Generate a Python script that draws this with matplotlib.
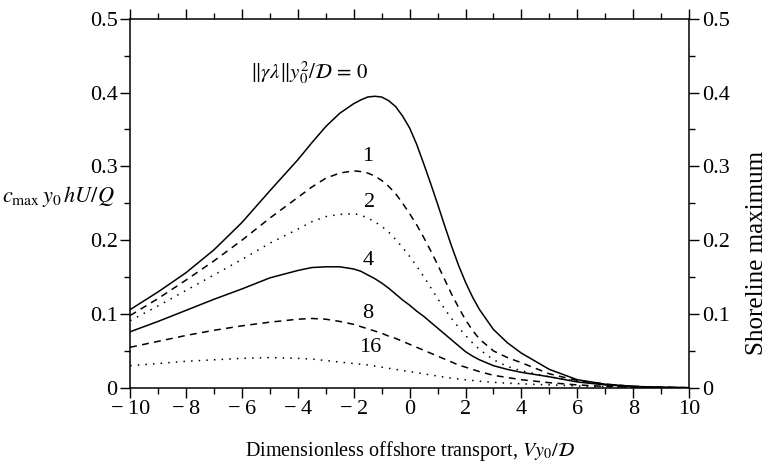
import numpy as np
import matplotlib
matplotlib.use("Agg")
import matplotlib.pyplot as plt
from matplotlib.ticker import MultipleLocator

plt.rcParams['font.family'] = ['Liberation Serif', 'DejaVu Serif']
plt.rcParams['mathtext.fontset'] = 'stix'

# values
x = [-10, -9, -8, -7, -6, -5, -4, -3.5, -3, -2.5,
     -2, -1.75, -1.5, -1.25, -1, -0.75, -0.5, -0.25, 0, 0.25, 0.5, 0.75,
     1, 1.25, 1.5, 1.75, 2, 2.25, 2.5,
     3, 3.5, 4,
     5, 6, 7, 8, 9, 10]

c0 = [0.106, 0.130, 0.156, 0.187, 0.224, 0.267, 0.309, 0.332, 0.354, 0.372,
      0.385, 0.390, 0.394, 0.395, 0.394, 0.389, 0.381, 0.368, 0.352, 0.330,
      0.304, 0.277, 0.249, 0.220, 0.192, 0.166, 0.143, 0.123, 0.106,
      0.079, 0.061, 0.047,
      0.025, 0.011, 0.005, 0.002, 0.0008, 0.0002]
c1 = [0.098, 0.121, 0.146, 0.172, 0.200, 0.230, 0.258, 0.272, 0.284, 0.291,
      0.294, 0.293, 0.291, 0.287, 0.281, 0.273, 0.263, 0.250, 0.236, 0.221,
      0.204, 0.186, 0.167, 0.147, 0.127, 0.109, 0.092, 0.078, 0.066,
      0.050, 0.041, 0.034,
      0.019, 0.010, 0.005, 0.002, 0.0008, 0.0002]
c2 = [0.091, 0.111, 0.132, 0.153, 0.174, 0.196, 0.215, 0.225, 0.232, 0.235,
      0.236, 0.234, 0.230, 0.225, 0.219, 0.211, 0.201, 0.190, 0.178, 0.165,
      0.151, 0.136, 0.121, 0.107, 0.094, 0.082, 0.071, 0.061, 0.052,
      0.038, 0.029, 0.023,
      0.015, 0.009, 0.0045, 0.002, 0.0008, 0.0002]
c4 = [0.076, 0.090, 0.105, 0.120, 0.134, 0.149, 0.159, 0.163, 0.164, 0.164,
      0.161, 0.158, 0.153, 0.148, 0.142, 0.135, 0.127, 0.119, 0.112, 0.104,
      0.097, 0.089, 0.081, 0.073, 0.065, 0.057, 0.049, 0.043, 0.038,
      0.030, 0.025, 0.021,
      0.015, 0.008, 0.004, 0.0018, 0.0007, 0.0002]
c8 = [0.055, 0.063, 0.071, 0.078, 0.084, 0.089, 0.093, 0.094, 0.093, 0.090,
      0.086, 0.083, 0.080, 0.077, 0.074, 0.070, 0.067, 0.063, 0.059, 0.055,
      0.051, 0.047, 0.043, 0.039, 0.035, 0.031, 0.028, 0.025, 0.022,
      0.017, 0.014, 0.011,
      0.007, 0.004, 0.002, 0.001, 0.0004, 0.0001]
c16 = [0.030, 0.033, 0.036, 0.038, 0.040, 0.041, 0.040, 0.039, 0.037, 0.035,
       0.033, 0.032, 0.031, 0.0295, 0.028, 0.0265, 0.025, 0.0235, 0.022, 0.0205,
       0.019, 0.0175, 0.016, 0.0145, 0.013, 0.012, 0.011, 0.010, 0.009,
       0.0075, 0.0063, 0.0055,
       0.004, 0.0025, 0.0015, 0.0008, 0.0003, 0.0001]

curve_labels = ['1', '2', '4', '8', '16']
label_x = [-1.5, -1.45, -1.5, -1.5, -1.4]
label_y = [0.313, 0.251, 0.173, 0.101, 0.054]

fig = plt.figure(figsize=(7.7, 4.69), dpi=100)
ax = fig.add_axes([0.169, 0.173, 0.726, 0.787])

lw = 1.1
dash = (0, (4.5, 3.5))
dot = (0, (1, 4))
ax.plot(x, c0, color='black', lw=lw, ls='-')
ax.plot(x, c1, color='black', lw=lw, ls=dash)
ax.plot(x, c2, color='black', lw=lw, ls=dot)
ax.plot(x, c4, color='black', lw=lw, ls='-')
ax.plot(x, c8, color='black', lw=lw, ls=dash)
ax.plot(x, c16, color='black', lw=lw, ls=dot)

ax.set_xlim(-10, 10)
ax.set_ylim(0, 0.5)

fmt = lambda v: '0' if abs(v) < 1e-9 else ('%g' % v).replace('-', '\u2212\u2009')
xt = np.arange(-10, 11, 2)
ax.set_xticks(xt)
ax.set_xticklabels([fmt(v) for v in xt])
yt = np.round(np.arange(0, 0.51, 0.1), 1)
ax.set_yticks(yt)
ax.set_yticklabels([fmt(v) for v in yt])
ax.xaxis.set_minor_locator(MultipleLocator(1))
ax.yaxis.set_minor_locator(MultipleLocator(0.05))

ax.tick_params(which='both', direction='out', top=True, right=True,
               labelright=True, labelsize=16, width=1.0, pad=2)
ax.tick_params(which='major', length=7)
ax.tick_params(which='minor', length=4)
for s in ax.spines.values():
    s.set_linewidth(1.1)

fig.text(0.983, 0.46, 'Shoreline maximum', rotation=90,
         ha='center', va='center', fontsize=18)
fig.text(0.003, 0.58, r'$c_{\max}\,y_0\,hU/Q$', ha='left', va='center',
         fontsize=16)
ax.set_xlabel(r'Dimensionless offshore transport, $Vy_0/\mathcal{D}$',
              fontsize=14.5, labelpad=14)

ax.text(-3.6, 0.427, r'$\|\gamma\lambda\|y_0^2/\mathcal{D}\,=\,0$',
        ha='center', va='center', fontsize=15)
for lab, lx, ly in zip(curve_labels, label_x, label_y):
    ax.text(lx, ly, lab, ha='center', va='center', fontsize=16)

fig.savefig('out.png', dpi=100)
